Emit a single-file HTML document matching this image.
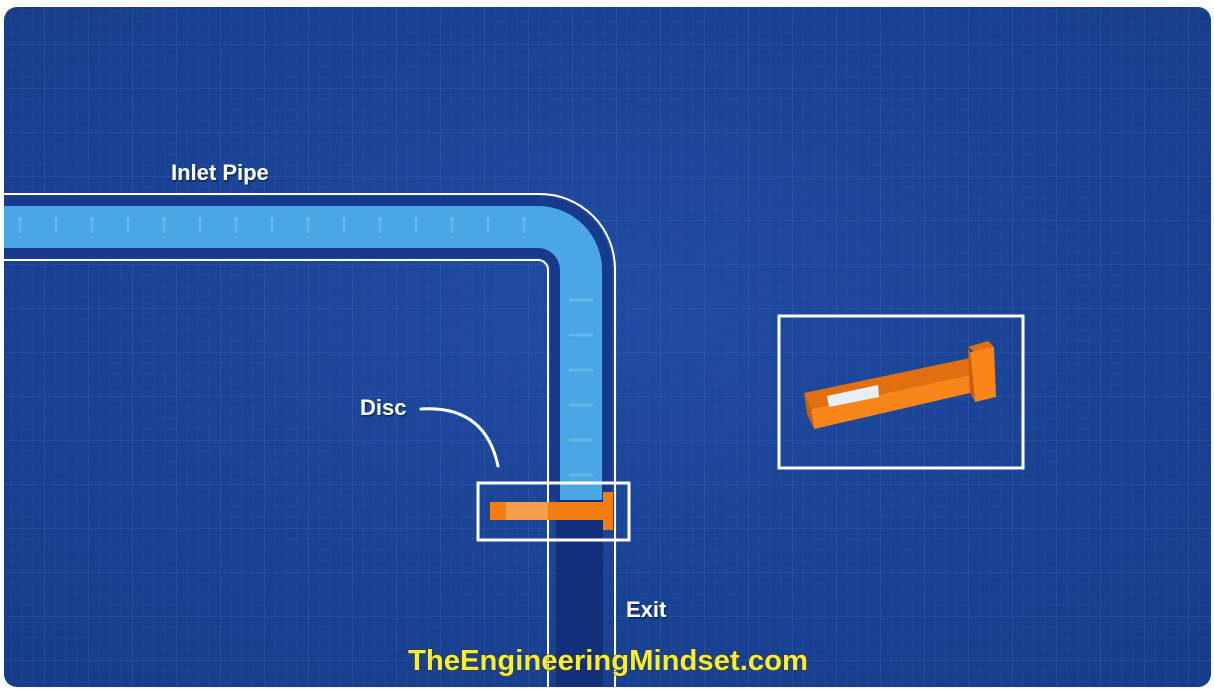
<!DOCTYPE html>
<html><head><style>
html,body{margin:0;padding:0;background:#fff;width:1214px;height:690px;overflow:hidden}
svg{display:block}
text{font-family:"Comic Sans MS","Liberation Sans",sans-serif}
</style></head><body>
<svg width="1214" height="690" viewBox="0 0 1214 690" xmlns="http://www.w3.org/2000/svg">
<defs>
<pattern id="g" width="44" height="44" patternUnits="userSpaceOnUse">
<path d="M11 0V44M22 0V44M33 0V44M0 11H44M0 22H44M0 33H44" stroke="#3461b0" stroke-opacity="0.15" stroke-width="1"/>
<path d="M0 0V44M0 0H44" stroke="#4a78c4" stroke-opacity="0.3" stroke-width="1.5"/>
</pattern>
<radialGradient id="bg" cx="50%" cy="45%" r="70%">
<stop offset="0" stop-color="#1f4ca2"/><stop offset="1" stop-color="#173c8a"/>
</radialGradient>
<clipPath id="c"><rect x="4" y="7" width="1207" height="680" rx="13"/></clipPath>
<filter id="sh"><feDropShadow dx="1" dy="1.5" stdDeviation="0.8" flood-color="#061a40" flood-opacity="0.8"/></filter>
</defs>
<g clip-path="url(#c)">
<rect x="0" y="0" width="1214" height="690" fill="url(#bg)"/>
<rect x="0" y="0" width="1214" height="690" fill="url(#g)"/>
<path d="M0 227 H538 A42 42 0 0 1 581 270 V500" fill="none" stroke="#173a8c" stroke-width="62"/>
<rect x="556" y="500" width="47" height="200" fill="#14307a"/>
<path d="M0 227 H538 A43 43 0 0 1 581 270 V500" fill="none" stroke="#4aa6e4" stroke-width="42"/>
<g stroke="#7cc4f0" stroke-width="3" stroke-opacity="0.5" stroke-linecap="round">
<path d="M20 218v14M56 218v14M92 218v14M128 218v14M164 218v14M200 218v14M236 218v14M272 218v14M308 218v14M344 218v14M380 218v14M416 218v14M452 218v14M488 218v14M524 218v14"/>
<path d="M570 300h22M570 335h22M570 370h22M570 405h22M570 440h22M570 475h22"/>
</g>
<path d="M0 194 H540 A75 75 0 0 1 615 269 V700" fill="none" stroke="#fff" stroke-width="2"/>
<path d="M0 260 H538 A10 10 0 0 1 548 270 V700" fill="none" stroke="#fff" stroke-width="2"/>
<rect x="490" y="502" width="16" height="18" fill="#f47c12"/>
<rect x="506" y="502" width="42" height="18" fill="#f5a050"/>
<rect x="548" y="502" width="58" height="18" fill="#f47c12"/>
<rect x="603" y="492" width="10" height="38" fill="#f47c12"/>
<rect x="478" y="483" width="151" height="57" fill="none" stroke="#fff" stroke-width="3"/>
<path d="M421 409 Q485 405 498 466" fill="none" stroke="#fff" stroke-width="3" stroke-linecap="round"/>
<rect x="779" y="316" width="244" height="152" fill="none" stroke="#fff" stroke-width="3"/>
<polygon points="804,393 970,358 970,375 811,409" fill="#e06f10"/>
<polygon points="811,409 970,375 970,393 814,429" fill="#f7851a"/>
<polygon points="804,393 811,409 814,429 807,414" fill="#c95f0a"/>
<polygon points="968,347 988,341 994,347 975,352" fill="#e06f10"/>
<polygon points="970,352 994,347 996,397 975,402" fill="#f7851a"/>
<polygon points="968,347 970,352 975,402 970,393" fill="#c95f0a"/>
<polygon points="827,396 878,385 879,397 829,407" fill="#e8eef8"/>
<g filter="url(#sh)">
<text x="171" y="180" font-size="22" fill="#fff" font-weight="bold">Inlet Pipe</text>
<text x="360" y="415" font-size="22" fill="#fff" font-weight="bold">Disc</text>
<text x="626" y="617" font-size="22" fill="#fff" font-weight="bold">Exit</text>
</g>
<text x="408" y="670" font-size="29" font-weight="bold" fill="#f6ee3a" stroke="#3a3008" stroke-width="1" paint-order="stroke" textLength="400" lengthAdjust="spacingAndGlyphs">TheEngineeringMindset.com</text>
</g>
</svg>
</body></html>
